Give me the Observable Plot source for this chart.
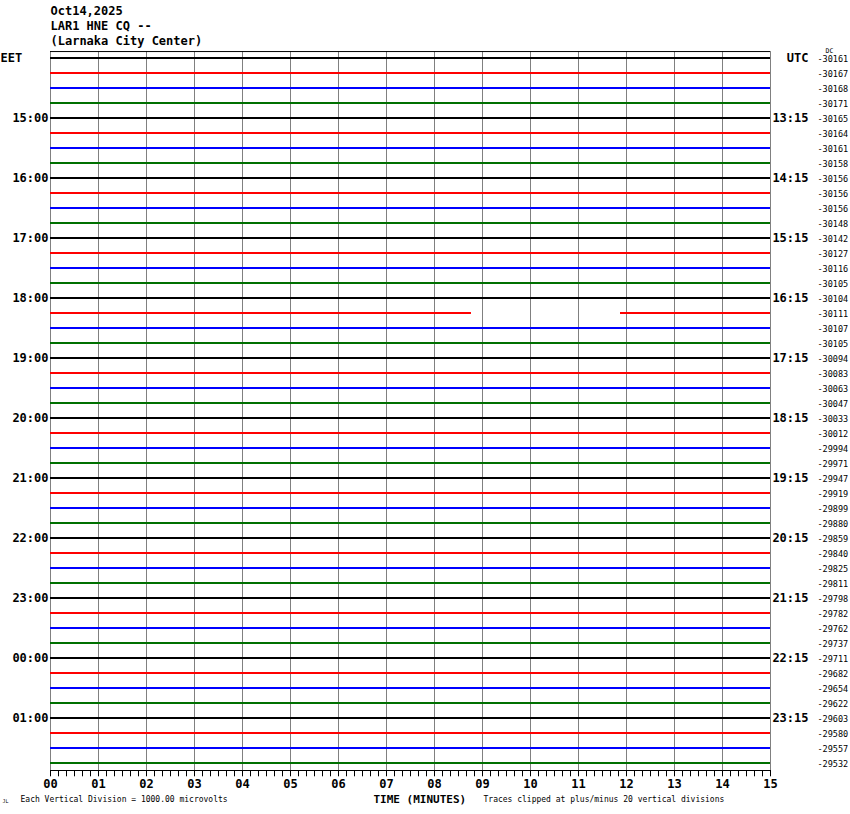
<!DOCTYPE html>
<html>
<head>
<meta charset="utf-8">
<script src="https://cdn.jsdelivr.net/npm/d3@7"></script>
<script src="https://cdn.jsdelivr.net/npm/@observablehq/plot@0.6"></script>
<style>
  html, body { margin: 0; padding: 0; background: #fff; }
  #chart svg { display: block; }
</style>
</head>
<body>
<div id="chart"></div>
<script>
// ---- data ----
const titleLines = ["Oct14,2025", "LAR1 HNE CQ --", "(Larnaka City Center)"];
const leftLabels = ["EET", "15:00", "16:00", "17:00", "18:00", "19:00", "20:00", "21:00", "22:00", "23:00", "00:00", "01:00"];
const rightLabels = ["UTC", "13:15", "14:15", "15:15", "16:15", "17:15", "18:15", "19:15", "20:15", "21:15", "22:15", "23:15"];
const dcValues = [
  -30161, -30167, -30168, -30171, -30165, -30164, -30161, -30158,
  -30156, -30156, -30156, -30148, -30142, -30127, -30116, -30105,
  -30104, -30111, -30107, -30105, -30094, -30083, -30063, -30047,
  -30033, -30012, -29994, -29971, -29947, -29919, -29899, -29880,
  -29859, -29840, -29825, -29811, -29798, -29782, -29762, -29737,
  -29711, -29682, -29654, -29622, -29603, -29580, -29557, -29532
];
const traceColors = ["#000000", "#ff0000", "#0000ff", "#007000"];
const minuteLabels = ["00","01","02","03","04","05","06","07","08","09","10","11","12","13","14","15"];
// data gaps (trace index, start minute, end minute)
const gaps = [{trace: 17, from: 8.77, to: 11.875}];
const tracesPerHour = 4;
const minutesPerLine = 15;
const secondsPerTick = 10;

// ---- derived tables ----
const segments = [];
dcValues.forEach((dc, i) => {
  const g = gaps.filter(d => d.trace === i).sort((a, b) => a.from - b.from);
  let start = 0;
  for (const gap of g) {
    segments.push({trace: i, x1: start, x2: gap.from, color: traceColors[i % 4]});
    start = gap.to;
  }
  segments.push({trace: i, x1: start, x2: minutesPerLine, color: traceColors[i % 4]});
});
const dcTable = dcValues.map((v, i) => ({trace: i, label: String(v)}));
const leftTable = leftLabels.map((l, k) => ({trace: k * tracesPerHour, label: l}));
const rightTable = rightLabels.map((l, k) => ({trace: k * tracesPerHour, label: l}));
const minuteTable = minuteLabels.map((l, m) => ({minute: m, label: l}));
const minorTicks = d3.range(0, minutesPerLine * 60 + 1, secondsPerTick).map(s => s / 60);
const lastTrace = dcValues.length - 1;
const topEdge = -0.43;
const bottomEdge = lastTrace + 0.5;

const mono = "'DejaVu Sans Mono', 'Liberation Mono', monospace";

const chart = Plot.plot({
  width: 850,
  height: 814,
  marginTop: 57.5,
  marginBottom: 51.5,
  marginLeft: 50,
  marginRight: 80,
  style: {fontFamily: mono, background: "#fff", overflow: "visible"},
  x: {type: "linear", domain: [0, minutesPerLine], axis: null},
  y: {type: "linear", domain: [0, lastTrace], reverse: true, axis: null},
  marks: [
    // minute gridlines
    Plot.ruleX(minuteTable, {x: "minute", y1: topEdge, y2: bottomEdge, stroke: "#808080", strokeWidth: 1}),
    // top border
    Plot.ruleY([topEdge], {x1: 0, x2: minutesPerLine, stroke: "#000", strokeWidth: 1}),
    // bottom axis line
    Plot.ruleY([bottomEdge], {x1: 0, x2: minutesPerLine, stroke: "#000", strokeWidth: 1}),
    // ticks every 10 s
    Plot.ruleX(minorTicks, {x: d => d, y1: bottomEdge, y2: bottomEdge + 0.42, stroke: "#000", strokeWidth: 1}),
    // traces
    Plot.ruleY(segments, {y: "trace", x1: "x1", x2: "x2", stroke: "color", strokeWidth: 2}),
    // left (local time) labels
    Plot.text(leftTable.slice(0, 1), {x: 0, y: "trace", text: "label", textAnchor: "start", dx: -50, fontSize: 12, fontWeight: "bold", fill: "#000"}),
    Plot.text(leftTable.slice(1), {x: 0, y: "trace", text: "label", textAnchor: "end", dx: -2, fontSize: 12, fontWeight: "bold", fill: "#000"}),
    // right (UTC) labels
    Plot.text(rightTable, {x: minutesPerLine, y: "trace", text: "label", textAnchor: "end", dx: 38, fontSize: 12, fontWeight: "bold", fill: "#000"}),
    // DC offsets
    Plot.text(dcTable, {x: minutesPerLine, y: "trace", text: "label", textAnchor: "start", dx: 47, dy: 1, fontSize: 8.5, fill: "#000"}),
    Plot.text(["DC"], {x: minutesPerLine, y: 0, text: d => d, textAnchor: "start", dx: 55, dy: -7, fontSize: 6.5, fill: "#000"}),
    // minute labels
    Plot.text(minuteTable, {x: "minute", y: bottomEdge, text: "label", dy: 14, fontSize: 12, fontWeight: "bold", fill: "#000"}),
    // titles
    Plot.text([titleLines[0]], {frameAnchor: "top-left", text: d => d, dx: 0, dy: -52, fontSize: 12, fontWeight: "bold", fill: "#000", textAnchor: "start", lineAnchor: "top"}),
    Plot.text([titleLines[1]], {frameAnchor: "top-left", text: d => d, dx: 0, dy: -37, fontSize: 12, fontWeight: "bold", fill: "#000", textAnchor: "start", lineAnchor: "top"}),
    Plot.text([titleLines[2]], {frameAnchor: "top-left", text: d => d, dx: 0, dy: -22, fontSize: 12, fontWeight: "bold", fill: "#000", textAnchor: "start", lineAnchor: "top"}),
    // bottom captions
    Plot.text(["TIME (MINUTES)"], {frameAnchor: "bottom-left", text: d => d, dx: 323, dy: 40, fontSize: 11, fontWeight: "bold", fill: "#000", textAnchor: "start"}),
    Plot.text(["Each Vertical Division = 1000.00 microvolts"], {frameAnchor: "bottom-left", text: d => d, dx: -30, dy: 39, fontSize: 8, fill: "#000", textAnchor: "start"}),
    Plot.text(["Traces clipped at plus/minus 20 vertical divisions"], {frameAnchor: "bottom-left", text: d => d, dx: 433, dy: 39, fontSize: 8, fill: "#000", textAnchor: "start"}),
    Plot.text(["JL"], {frameAnchor: "bottom-left", text: d => d, dx: -48, dy: 40, fontSize: 5, fill: "#000", textAnchor: "start"})
  ]
});
document.getElementById("chart").appendChild(chart);
</script>
</body>
</html>
